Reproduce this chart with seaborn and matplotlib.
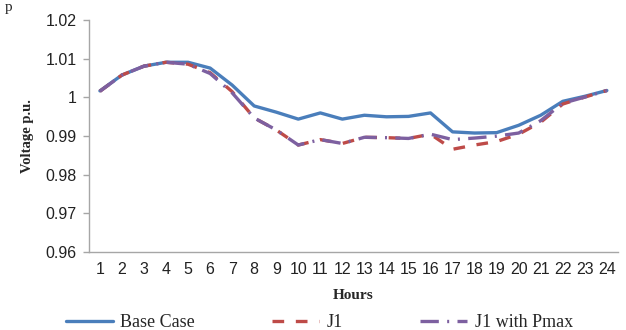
import numpy as np
import pandas as pd
import matplotlib
matplotlib.use("Agg")
import matplotlib.pyplot as plt
import seaborn as sns
from matplotlib.ticker import FixedLocator

# ==========================
# DATA
# ==========================
hours = list(range(1, 25))

base_case = [1.0017, 1.0058, 1.0081, 1.0091, 1.0091, 1.0076, 1.0032, 0.9978,
             0.9962, 0.9944, 0.9960, 0.9944, 0.9954, 0.9950, 0.9951, 0.9960,
             0.9911, 0.9908, 0.9909, 0.9928, 0.9954, 0.9990, 1.0003, 1.0018]

j1 = [1.0016, 1.0058, 1.0081, 1.0091, 1.0086, 1.0064, 1.0015, 0.9947,
      0.9916, 0.9877, 0.9891, 0.9881, 0.9897, 0.9896, 0.9894, 0.9905,
      0.9866, 0.9877, 0.9886, 0.9905, 0.9936, 0.9983, 1.0001, 1.0018]

j1_pmax = [1.0016, 1.0058, 1.0081, 1.0091, 1.0086, 1.0062, 1.0012, 0.9947,
           0.9916, 0.9877, 0.9891, 0.9881, 0.9897, 0.9896, 0.9894, 0.9905,
           0.9891, 0.9895, 0.9900, 0.9908, 0.9940, 0.9985, 1.0001, 1.0018]

y_ticks = [0.96, 0.97, 0.98, 0.99, 1.00, 1.01, 1.02]
y_tick_labels = ["0.96", "0.97", "0.98", "0.99", "1", "1.01", "1.02"]

# ==========================
# STYLE
# ==========================
sns.set_style("white")
plt.rcParams["font.family"] = ["Liberation Sans", "DejaVu Sans"]

BLUE = "#4A7EBB"
RED = "#BE4B48"
PURPLE = "#7D60A0"
GRID_GRAY = "#A6A6A6"

fig = plt.figure(figsize=(6.26, 3.30), dpi=100)
ax = fig.add_axes([0.142, 0.236, 0.845, 0.703])

df = pd.DataFrame({"Hours": hours, "Base Case": base_case, "J1": j1, "J1 with Pmax": j1_pmax})

sns.lineplot(data=df, x="Hours", y="Base Case", ax=ax, color=BLUE, lw=2.4,
             label="Base Case")
sns.lineplot(data=df, x="Hours", y="J1", ax=ax, color=RED, lw=2.4,
             label="J1")
sns.lineplot(data=df, x="Hours", y="J1 with Pmax", ax=ax, color=PURPLE, lw=2.4,
             label="J1 with Pmax")

ax.lines[1].set_dashes([3.5, 3.5])
ax.lines[2].set_dashes([5.5, 2.5, 0.6, 2.5])

# ==========================
# AXES
# ==========================
ax.set_xlim(0.5, 24.5)
ax.set_ylim(0.96, 1.02)

ax.set_xticks(hours)
ax.set_xticklabels([str(h) for h in hours], fontsize=11.5, color="#222222")
ax.xaxis.set_minor_locator(FixedLocator(np.arange(0.5, 25, 1)))
ax.tick_params(axis="x", which="major", length=0, pad=7)
ax.tick_params(axis="x", which="minor", length=4, color=GRID_GRAY, width=1, direction="out")

ax.set_yticks(y_ticks)
ax.set_yticklabels(y_tick_labels, fontsize=11.5, color="#222222")
ax.tick_params(axis="y", length=4, color=GRID_GRAY, width=1, direction="out", left=True, pad=5)

for side in ["top", "right"]:
    ax.spines[side].set_visible(False)
for side in ["left", "bottom"]:
    ax.spines[side].set_color(GRID_GRAY)
    ax.spines[side].set_linewidth(1)

ax.set_xlabel("Hours", fontsize=11, fontweight="bold", family="Liberation Serif", labelpad=9)
ax.set_ylabel("Voltage p.u.", fontsize=10.5, fontweight="bold", family="Liberation Serif", labelpad=8)

ax.legend_.remove()
handles, labels = ax.get_legend_handles_labels()
fig.legend(handles, labels, loc="center", bbox_to_anchor=(0.51, 0.022), ncol=3,
           frameon=False, prop={"family": "Liberation Serif", "size": 13},
           handlelength=2.6, columnspacing=4.3, handletextpad=0.4)

fig.text(0.008, 0.998, "p", fontsize=11, family="Liberation Serif", va="top")

plt.savefig("out.png", dpi=100)
